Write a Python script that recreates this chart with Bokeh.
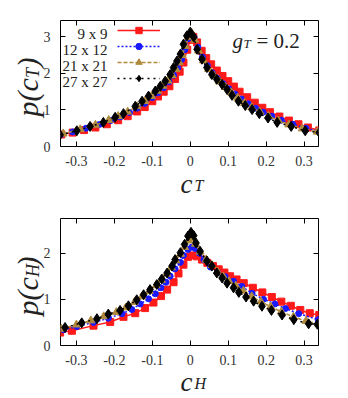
import math
from bokeh.plotting import figure
from bokeh.layouts import column
from bokeh.models import (Range1d, FixedTicker, LinearAxis, Label, Legend, LegendItem,
                          CustomJSTickFormatter)
from bokeh.embed import file_html
from bokeh.resources import INLINE

# ---------------- data ----------------
series_labels = ["9 x 9", "12 x 12", "21 x 21", "27 x 27"]
x_ticks = [-0.3, -0.2, -0.1, 0.0, 0.1, 0.2, 0.3]
x_tick_labels = ["-0.3", "-0.2", "-0.1", "0", "0.1", "0.2", "0.3"]
top_y_ticks = [0, 1, 2, 3]
bot_y_ticks = [0, 1, 2]

# top panel: p(c_T)
cT_9 = [-0.34, -0.31, -0.28, -0.25, -0.22, -0.19, -0.165, -0.14, -0.12, -0.1, -0.085, -0.07,
        -0.055, -0.04, -0.028, -0.018, -0.008, 0.0, 0.008, 0.018, 0.03, 0.042, 0.055, 0.07,
        0.085, 0.1, 0.115, 0.13, 0.15, 0.17, 0.19, 0.21, 0.235, 0.26, 0.285, 0.31, 0.34]
pT_9 = [0.33, 0.38, 0.45, 0.52, 0.61, 0.72, 0.83, 0.96, 1.08, 1.24, 1.37, 1.50,
        1.65, 1.85, 2.05, 2.30, 2.65, 2.92, 3.00, 2.85, 2.62, 2.42, 2.25, 2.08,
        1.93, 1.79, 1.64, 1.50, 1.35, 1.20, 1.06, 0.94, 0.82, 0.71, 0.61, 0.52, 0.44]

cT_12 = [-0.34, -0.31, -0.275, -0.24, -0.21, -0.185, -0.16, -0.14, -0.12, -0.1, -0.085, -0.07,
         -0.056, -0.044, -0.033, -0.023, -0.014, -0.006, 0.002, 0.01, 0.02, 0.032, 0.045, 0.058,
         0.072, 0.087, 0.102, 0.118, 0.135, 0.153, 0.172, 0.192, 0.215, 0.24, 0.27, 0.305, 0.34]
pT_12 = [0.33, 0.40, 0.50, 0.60, 0.71, 0.81, 0.93, 1.05, 1.18, 1.34, 1.47, 1.61,
         1.77, 1.95, 2.15, 2.38, 2.65, 2.95, 3.10, 2.98, 2.72, 2.45, 2.22, 2.02,
         1.86, 1.72, 1.58, 1.44, 1.30, 1.17, 1.05, 0.94, 0.83, 0.72, 0.61, 0.50, 0.41]

cT_21 = [-0.335, -0.29, -0.25, -0.215, -0.19, -0.165, -0.14, -0.12, -0.102, -0.086, -0.072,
         -0.059, -0.048, -0.038, -0.029, -0.021, -0.013, -0.005, 0.003, 0.012, 0.022, 0.035,
         0.048, 0.062, 0.077, 0.092, 0.108, 0.125, 0.143, 0.162, 0.183, 0.206, 0.232, 0.26,
         0.295, 0.335]
pT_21 = [0.35, 0.47, 0.59, 0.72, 0.83, 0.95, 1.10, 1.24, 1.38, 1.52, 1.66,
         1.80, 1.95, 2.12, 2.30, 2.50, 2.75, 3.00, 3.12, 2.92, 2.62, 2.35,
         2.12, 1.94, 1.78, 1.63, 1.48, 1.33, 1.19, 1.07, 0.95, 0.83, 0.71, 0.60,
         0.49, 0.40]

cT_27 = [-0.343, -0.299, -0.264, -0.229, -0.198, -0.176, -0.145, -0.127, -0.11, -0.092, -0.079,
         -0.066, -0.053, -0.044, -0.035, -0.026, -0.018, -0.009, 0.0, 0.009, 0.018, 0.031,
         0.044, 0.057, 0.07, 0.084, 0.097, 0.11, 0.127, 0.145, 0.163, 0.182, 0.205, 0.229,
         0.266, 0.303, 0.34]
pT_27 = [0.32, 0.43, 0.55, 0.66, 0.80, 0.90, 1.10, 1.24, 1.38, 1.52, 1.65,
         1.79, 1.97, 2.16, 2.34, 2.53, 2.80, 3.03, 3.13, 3.00, 2.66, 2.39,
         2.16, 1.97, 1.84, 1.70, 1.56, 1.40, 1.24, 1.12, 1.01, 0.90, 0.78, 0.66,
         0.55, 0.43, 0.38]

# bottom panel: p(c_H)
cH_9 = [-0.343, -0.312, -0.255, -0.211, -0.176, -0.145, -0.119, -0.097, -0.077, -0.061, -0.044,
        -0.031, -0.018, -0.006, 0.006, 0.018, 0.031, 0.045, 0.06, 0.075, 0.09, 0.105, 0.122,
        0.141, 0.165, 0.19, 0.215, 0.24, 0.265, 0.29, 0.315, 0.34]
pH_9 = [0.28, 0.32, 0.43, 0.51, 0.62, 0.70, 0.81, 0.93, 1.07, 1.21, 1.37,
        1.56, 1.75, 1.92, 1.95, 1.93, 1.86, 1.79, 1.72, 1.65, 1.58, 1.50, 1.43,
        1.35, 1.25, 1.15, 1.05, 0.95, 0.86, 0.77, 0.70, 0.66]

cH_12 = [-0.334, -0.299, -0.255, -0.216, -0.18, -0.154, -0.132, -0.11, -0.092, -0.077, -0.064,
         -0.053, -0.04, -0.026, -0.018, -0.006, 0.004, 0.013, 0.024, 0.036, 0.053, 0.072,
         0.092, 0.114, 0.136, 0.163, 0.193, 0.223, 0.251, 0.286, 0.337]
pH_12 = [0.34, 0.41, 0.50, 0.59, 0.69, 0.78, 0.90, 1.01, 1.12, 1.25, 1.37,
         1.50, 1.66, 1.80, 1.95, 2.08, 2.13, 2.10, 2.00, 1.86, 1.70, 1.58,
         1.49, 1.39, 1.28, 1.13, 1.00, 0.90, 0.80, 0.69, 0.56]

cH_21 = [-0.34, -0.30, -0.262, -0.228, -0.195, -0.17, -0.147, -0.127, -0.108, -0.09, -0.076,
         -0.062, -0.05, -0.038, -0.026, -0.015, -0.005, 0.004, 0.014, 0.026, 0.042, 0.057,
         0.072, 0.087, 0.102, 0.12, 0.14, 0.162, 0.186, 0.212, 0.24, 0.272, 0.305, 0.338]
pH_21 = [0.36, 0.45, 0.54, 0.63, 0.72, 0.82, 0.94, 1.06, 1.18, 1.30, 1.42,
         1.55, 1.69, 1.84, 1.98, 2.13, 2.27, 2.31, 2.20, 2.03, 1.86, 1.74,
         1.60, 1.49, 1.39, 1.29, 1.18, 1.06, 0.95, 0.84, 0.73, 0.62, 0.53, 0.47]

cH_27 = [-0.33, -0.286, -0.246, -0.216, -0.185, -0.163, -0.141, -0.123, -0.106, -0.088, -0.075,
         -0.061, -0.048, -0.04, -0.026, -0.015, -0.006, 0.002, 0.009, 0.015, 0.026, 0.044,
         0.057, 0.07, 0.084, 0.097, 0.114, 0.128, 0.147, 0.167, 0.189, 0.214, 0.242, 0.273,
         0.312, 0.335]
pH_27 = [0.39, 0.49, 0.58, 0.68, 0.76, 0.86, 0.99, 1.10, 1.21, 1.32, 1.44,
         1.57, 1.72, 1.86, 2.01, 2.19, 2.37, 2.45, 2.38, 2.22, 2.04, 1.83,
         1.72, 1.57, 1.46, 1.35, 1.25, 1.15, 1.05, 0.96, 0.85, 0.76, 0.66, 0.56,
         0.47, 0.46]

# ---------------- styles ----------------
SERIF = "Liberation Serif"
colors = ["#ff1a1a", "#1a1aff", "#b08a3c", "#000000"]
markers = ["square", "circle", "triangle", "diamond"]
msizes = [7, 6, 8, 10]
dashes = ["solid", "2 2", "4 2", "2 4"]


def blank_axis(**kw):
    ax = LinearAxis(**kw)
    ax.formatter = CustomJSTickFormatter(code="return ''")
    ax.major_label_text_font_size = "1px"
    ax.major_label_standoff = 0
    ax.major_tick_in = 5
    ax.major_tick_out = 0
    ax.minor_tick_line_color = None
    ax.axis_line_color = None
    return ax


def make_fig(fh, top, bottom, ymax, yticks):
    p = figure(frame_width=258, frame_height=fh,
               x_range=Range1d(-0.342, 0.338), y_range=Range1d(0, ymax),
               output_backend="svg", toolbar_location=None,
               min_border_left=60, min_border_right=27,
               min_border_top=top, min_border_bottom=bottom)
    p.grid.visible = False
    p.outline_line_color = "black"
    p.outline_line_width = 1
    p.background_fill_color = "white"
    p.border_fill_color = "white"
    for ax in (p.xaxis[0], p.yaxis[0]):
        ax.major_tick_in = 5
        ax.major_tick_out = 0
        ax.minor_tick_line_color = None
        ax.major_label_text_font = SERIF
        ax.major_label_text_font_size = "14px"
        ax.major_label_text_color = "#333333"
        ax.axis_line_color = None
    p.xaxis.ticker = FixedTicker(ticks=x_ticks)
    p.xaxis.major_label_overrides = {t: l for t, l in zip(x_ticks, x_tick_labels)}
    p.xaxis.major_label_standoff = 9
    p.yaxis.ticker = FixedTicker(ticks=yticks)
    p.yaxis.major_label_standoff = 10
    p.add_layout(blank_axis(ticker=FixedTicker(ticks=x_ticks)), "above")
    p.add_layout(blank_axis(ticker=FixedTicker(ticks=yticks)), "right")
    return p


def add_series(p, xs, ys, i):
    ln = p.line(xs, ys, line_color=colors[i], line_width=1.5, line_dash=dashes[i])
    sc = p.scatter(xs, ys, marker=markers[i], size=msizes[i],
                   fill_color=colors[i], line_color=colors[i])
    return ln, sc


def lab(p, text, x, y, size, italic=False, align="left", angle=0.0, place="center"):
    # x, y in canvas pixels (from the figure's top-left corner)
    p.add_layout(Label(x=x, y=y, x_units="canvas", y_units="canvas", text=text,
                       text_font=SERIF, text_font_size=size,
                       text_font_style="italic" if italic else "normal",
                       text_align=align, text_baseline="alphabetic",
                       angle=angle, text_color="#222222"), place)


def axis_titles(p, sub, y0, xb):
    # y-axis title p(c_sub), rotated; x-axis title c_sub
    lab(p, "p(c", 27, y0, "30px", italic=True, angle=math.pi / 2, place="left")
    lab(p, sub, 32, y0 - 38.5, "18px", italic=True, angle=math.pi / 2, place="below")
    lab(p, ")", 27, y0 - 49, "30px", italic=True, angle=math.pi / 2, place="below")
    lab(p, "c", 186, xb, "27px", italic=True, align="center", place="right")
    lab(p, sub, 194, xb + 2, "16px", italic=True, place="right")


# ---------------- top panel ----------------
p1 = make_fig(126, 20, 52, 3.45, top_y_ticks)
top_data = [(cT_9, pT_9), (cT_12, pT_12), (cT_21, pT_21), (cT_27, pT_27)]
items = []
for i, (xs, ys) in enumerate(top_data):
    ln, sc = add_series(p1, xs, ys, i)
    items.append(LegendItem(label=" ", renderers=[ln, sc]))
leg = Legend(items=items, location=(57, 60), glyph_width=43, glyph_height=16,
             label_width=0, label_height=16, label_standoff=0, padding=0, spacing=0,
             margin=0, background_fill_alpha=0, border_line_color=None,
             label_text_font_size="1px")
p1.add_layout(leg, "center")
for k, t in enumerate(series_labels):
    lab(p1, t, 107, 33 + 16 * k, "15px", align="right")
lab(p1, "g", 232, 40, "21px", italic=True)
lab(p1, "T", 243, 43, "13px", italic=True)
lab(p1, "= 0.2", 256, 40, "21px")
axis_titles(p1, "T", 116, 183)

# ---------------- bottom panel ----------------
p2 = make_fig(127, 20, 52, 2.75, bot_y_ticks)
bot_data = [(cH_9, pH_9), (cH_12, pH_12), (cH_21, pH_21), (cH_27, pH_27)]
for i, (xs, ys) in enumerate(bot_data):
    add_series(p2, xs, ys, i)
axis_titles(p2, "H", 117, 183)

layout = column(p1, p2, spacing=0)
open("out.html", "w").write(file_html(layout, INLINE))
